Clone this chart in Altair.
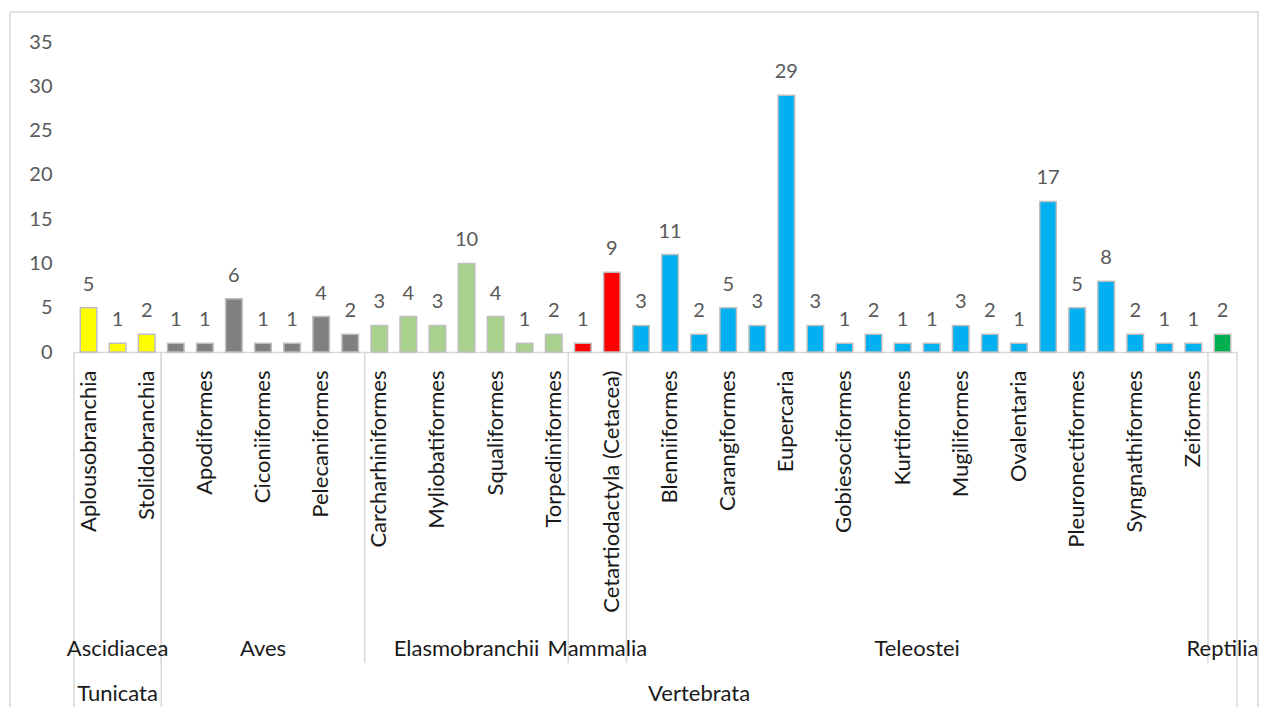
import json
import altair as alt
import pandas as pd

# ---- data ----
orders = [
    "Aplousobranchia", "Phlebobranchia", "Stolidobranchia",
    "Accipitriformes", "Apodiformes", "Charadriiformes", "Ciconiiformes",
    "Passeriformes", "Pelecaniformes", "Procellariiformes",
    "Carcharhiniformes", "Lamniformes", "Myliobatiformes", "Rajiformes",
    "Squaliformes", "Squatiniformes", "Torpediniformes",
    "Carnivora", "Cetartiodactyla (Cetacea)",
    "Anguilliformes", "Blenniiformes", "Callionymiformes", "Carangiformes",
    "Clupeiformes", "Eupercaria", "Gadiformes", "Gobiesociformes",
    "Gobiiformes", "Kurtiformes", "Lophiiformes", "Mugiliformes",
    "Myctophiformes", "Ovalentaria", "Perciformes", "Pleuronectiformes",
    "Scombriformes", "Syngnathiformes", "Tetraodontiformes", "Zeiformes",
    "Testudines",
]
counts = [
    5, 1, 2,
    1, 1, 6, 1, 1, 4, 2,
    3, 4, 3, 10, 4, 1, 2,
    1, 9,
    3, 11, 2, 5, 3, 29, 3, 1, 2, 1, 1, 3, 2, 1, 17, 5, 8, 2, 1, 1,
    2,
]
class_names = ["Ascidiacea", "Aves", "Elasmobranchii", "Mammalia", "Teleostei", "Reptilia"]
class_sizes = [3, 7, 7, 2, 20, 1]
class_colors = ["#FFFF00", "#808080", "#A9D18E", "#FF0000", "#00B0F0", "#00B050"]
subphylum_names = ["Tunicata", "Vertebrata"]
subphylum_sizes = [3, 37]
# labels Excel actually prints (every other category)
visible = orders[::2]

# ---- tables ----
cls_col = []
for n, s in zip(class_names, class_sizes):
    cls_col += [n] * s
df = pd.DataFrame({"order": orders, "count": counts, "cls": cls_col})

def groups(names, sizes):
    rows, start = [], 0
    for n, s in zip(names, sizes):
        rows.append({"name": n, "start": start, "end": start + s, "mid": start + s / 2})
        start += s
    return pd.DataFrame(rows)

cls_df = groups(class_names, class_sizes)
sub_df = groups(subphylum_names, subphylum_sizes)
N = len(orders)
inner_bounds = pd.DataFrame({"pos": cls_df["start"].tolist()[1:]})
outer_bounds = pd.DataFrame({"pos": [0] + sub_df["end"].tolist()})

W, H = 1163, 310
FONT = "Lato"
TXT = "#595959"
LINE = "#D9D9D9"
DARK = "#1a1a1a"

label_expr = "indexof(" + json.dumps(visible) + ", datum.value) >= 0 ? datum.value : ''"

x_band = alt.X(
    "order:N",
    scale=alt.Scale(domain=orders, paddingInner=0.43, paddingOuter=0.215),
    axis=alt.Axis(
        title=None, labelAngle=-90, labelAlign="right", labelBaseline="middle",
        labelPadding=18, ticks=False, domainColor=LINE, domainWidth=1.5,
        labelFont=FONT, labelFontSize=22, labelColor=DARK,
        labelExpr=label_expr, labelOverlap=False, labelLimit=400,
    ),
)
y_lin = alt.Y(
    "count:Q",
    scale=alt.Scale(domain=[0, 35], nice=False),
    axis=alt.Axis(
        title=None, values=list(range(0, 36, 5)), grid=False, ticks=False,
        domain=False, labelPadding=22, labelFont=FONT, labelFontSize=20,
        labelColor=TXT,
    ),
)

base = alt.Chart(df)
bars = base.mark_bar(stroke="#BFBFBF", strokeWidth=1.5).encode(
    x=x_band,
    y=y_lin,
    color=alt.Color("cls:N", scale=alt.Scale(domain=class_names, range=class_colors), legend=None),
)
values = base.mark_text(baseline="alphabetic", dy=-17, font=FONT, fontSize=20, color=TXT).encode(
    x=x_band, y=y_lin, text="count:Q"
)
bar_layer = alt.layer(bars, values)

x_pos = lambda f: alt.X(f, scale=alt.Scale(domain=[0, N], nice=False, zero=False), axis=None)

inner_rules = alt.Chart(inner_bounds).mark_rule(color=LINE, strokeWidth=1.5).encode(
    x=x_pos("pos:Q"), y=alt.value(H), y2=alt.value(621)
)
outer_rules = alt.Chart(outer_bounds).mark_rule(color=LINE, strokeWidth=1.5).encode(
    x=x_pos("pos:Q"), y=alt.value(H), y2=alt.value(700)
)
cls_text = alt.Chart(cls_df).mark_text(baseline="middle", align="center", font=FONT, fontSize=22, color=DARK).encode(
    x=x_pos("mid:Q"), y=alt.value(607), text="name:N"
)
sub_text = alt.Chart(sub_df).mark_text(baseline="middle", align="center", font=FONT, fontSize=22, color=DARK).encode(
    x=x_pos("mid:Q"), y=alt.value(652), text="name:N"
)
guides = alt.layer(inner_rules, outer_rules, cls_text, sub_text)

border = alt.Chart(pd.DataFrame({"a": [0]})).mark_rect(fillOpacity=0, stroke=LINE, strokeWidth=1.5).encode(
    x=alt.value(-64), x2=alt.value(1184), y=alt.value(-30), y2=alt.value(720)
)

chart = (
    alt.layer(border, bar_layer, guides)
    .resolve_scale(x="independent")
    .properties(
        width=W, height=H,
        autosize=alt.AutoSizeParams(type="none"),
        padding={"left": 66, "top": 34, "right": 22, "bottom": 355},
    )
    .configure_view(stroke=None)
)

chart.save("out.html", embed_options={"renderer": "svg", "actions": False})
